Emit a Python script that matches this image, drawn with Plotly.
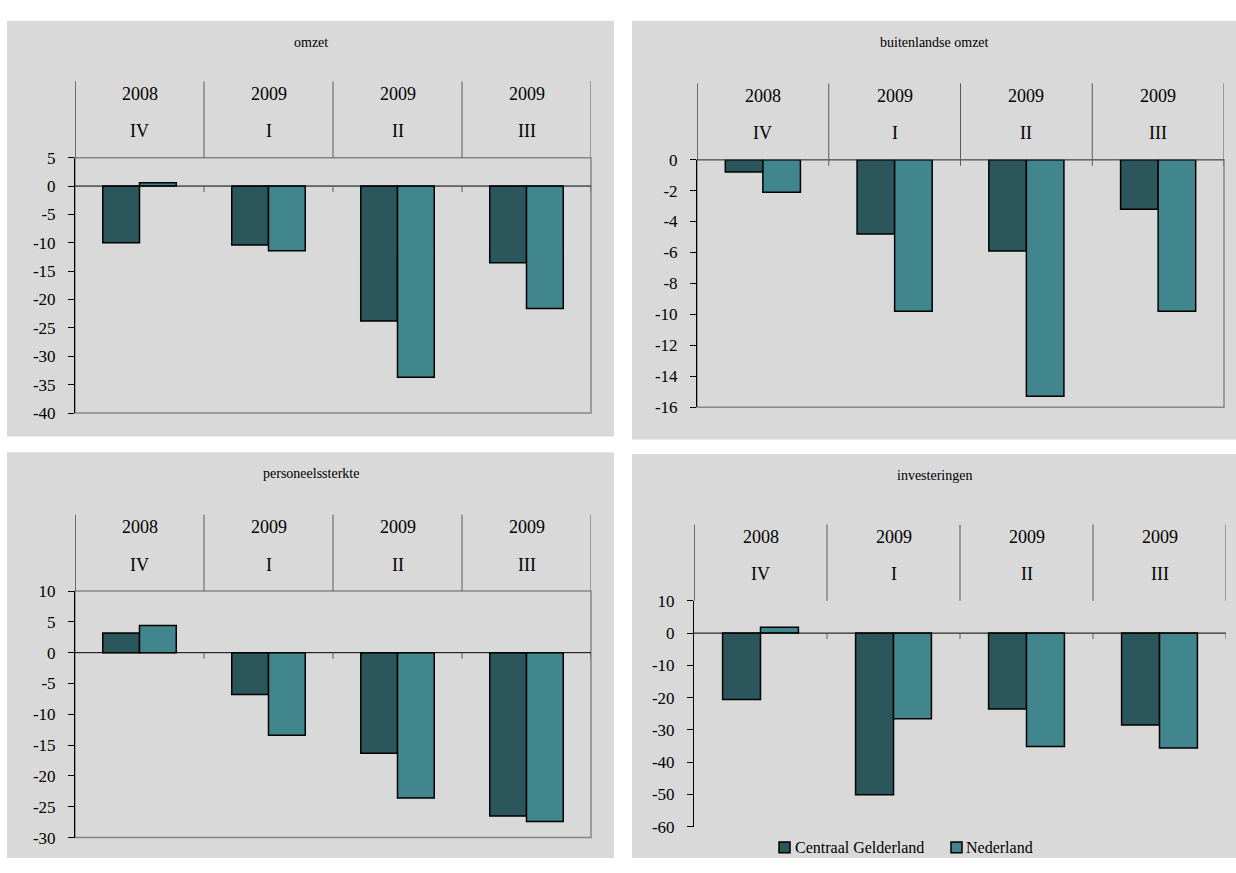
import plotly.graph_objects as go

W, H = 1236, 873

# ---------------- data ----------------
categories = ["2008 IV", "2009 I", "2009 II", "2009 III"]
years = ["2008", "2009", "2009", "2009"]
quarters = ["IV", "I", "II", "III"]
series_names = ["Centraal Gelderland", "Nederland"]

titles = ["omzet", "buitenlandse omzet", "personeelssterkte", "investeringen"]

omzet_cg = [-10.0, -10.4, -23.8, -13.5]
omzet_nl = [0.6, -11.4, -33.7, -21.6]
buiten_cg = [-0.8, -4.8, -5.9, -3.2]
buiten_nl = [-2.1, -9.8, -15.3, -9.8]
personeel_cg = [3.2, -6.8, -16.3, -26.5]
personeel_nl = [4.4, -13.4, -23.6, -27.4]
invest_cg = [-20.6, -50.1, -23.5, -28.5]
invest_nl = [1.8, -26.5, -35.1, -35.6]

omzet_ticks = [5, 0, -5, -10, -15, -20, -25, -30, -35, -40]
buiten_ticks = [0, -2, -4, -6, -8, -10, -12, -14, -16]
personeel_ticks = [10, 5, 0, -5, -10, -15, -20, -25, -30]
invest_ticks = [10, 0, -10, -20, -30, -40, -50, -60]

series_data = [
    (omzet_cg, omzet_nl, omzet_ticks),
    (buiten_cg, buiten_nl, buiten_ticks),
    (personeel_cg, personeel_nl, personeel_ticks),
    (invest_cg, invest_nl, invest_ticks),
]

# ---------------- styling / layout (pixels) ----------------
colors = ["#2b575c", "#41868c"]
panel_bg = "#d9d9d9"
FONT = "Liberation Serif"

panels = [
    dict(bg=(7, 12, 614, 437), px=(75, 591), py=(152, 413), border=True, ty=34),
    dict(bg=(632, 12, 1236, 440), px=(697, 1224), py=(154, 407), border=True, ty=34),
    dict(bg=(7, 453, 614, 868), px=(75, 591), py=(595, 847), border=True, ty=475),
    dict(bg=(632, 455, 1236, 868), px=(694, 1226), py=(605, 836), border=False, ty=477),
]
HEADER = 78
legend_pos = [(779, 793), (951, 964)]  # (square left, text left) in px
legend_y = 857

fig = go.Figure()
shapes = []
annotations = []
layout_axes = {}

for i, (p, (cg, nl, ticks)) in enumerate(zip(panels, series_data)):
    n = i + 1
    xa = "x" if n == 1 else f"x{n}"
    ya = "y" if n == 1 else f"y{n}"
    xname = "xaxis" if n == 1 else f"xaxis{n}"
    yname = "yaxis" if n == 1 else f"yaxis{n}"

    for vals, name, col in zip((cg, nl), series_names, colors):
        fig.add_trace(go.Bar(
            x=categories, y=vals, name=name, xaxis=xa, yaxis=ya,
            marker=dict(color=col, line=dict(color="black", width=1.5)),
            showlegend=False, legendgroup=name,
        ))

    x0, x1 = p["px"]
    y0, y1 = p["py"]
    h = y1 - y0
    layout_axes[xname] = dict(
        domain=[x0 / W, x1 / W], anchor=ya, type="category",
        categoryorder="array", categoryarray=categories,
        range=[-0.5, len(categories) - 0.5],
        showticklabels=False, showline=False, showgrid=False,
        zeroline=False, ticks="",
    )
    layout_axes[yname] = dict(
        domain=[1 - y1 / H, 1 - y0 / H], anchor=xa,
        range=[min(ticks), max(ticks)],
        tickvals=ticks, ticktext=[str(t) for t in ticks],
        showgrid=False, zeroline=False,
        showline=True, linecolor="black", linewidth=1,
        ticks="outside", ticklen=6, tickcolor="black", tickwidth=1,
        ticklabelstandoff=9,
        tickfont=dict(family=FONT, size=17, color="black"),
    )

    # panel background
    bx0, by0, bx1, by1 = p["bg"]
    shapes.append(dict(type="rect", xref="paper", yref="paper",
                       x0=bx0 / W, x1=bx1 / W, y0=1 - by1 / H, y1=1 - by0 / H,
                       fillcolor=panel_bg, line=dict(width=0), layer="below"))
    # plot border
    if p["border"]:
        shapes.append(dict(type="rect", xref=f"{xa} domain", yref=f"{ya} domain",
                           x0=0, x1=1, y0=0, y1=1,
                           line=dict(color="#868686", width=1.5), layer="below"))
    # zero line
    shapes.append(dict(type="line", xref=f"{xa} domain", yref=ya,
                       x0=0, x1=1, y0=0, y1=0,
                       line=dict(color="black", width=1), layer="above"))
    # header dividers and zero-line ticks
    top = 1 + HEADER / h
    for k in range(len(categories) + 1):
        xv = k - 0.5
        shapes.append(dict(type="line", xref=xa, yref=f"{ya} domain",
                           x0=xv, x1=xv, y0=1, y1=top,
                           line=dict(color="black" if k == 0 else "#5a5a5a", width=1)))
        if k > 0:
            shapes.append(dict(type="line", xref=xa, yref=ya, ysizemode="pixel",
                               yanchor=0, x0=xv, x1=xv, y0=0, y1=-6,
                               line=dict(color="#5a5a5a", width=1)))
    # category labels
    for c, yr, q in zip(categories, years, quarters):
        annotations.append(dict(x=c, xref=xa, yref=f"{ya} domain",
                                y=1 + (HEADER - 13) / h, text=yr, showarrow=False,
                                yanchor="middle", xanchor="center",
                                font=dict(family=FONT, size=18, color="black")))
        annotations.append(dict(x=c, xref=xa, yref=f"{ya} domain",
                                y=1 + (HEADER - 51) / h, text=q, showarrow=False,
                                yanchor="middle", xanchor="center",
                                font=dict(family=FONT, size=18, color="black")))
    # panel title
    annotations.append(dict(x=(bx0 + bx1) / 2 / W, y=1 - p["ty"] / H,
                            xref="paper", yref="paper", text=titles[i],
                            showarrow=False, yanchor="middle", xanchor="center",
                            font=dict(family=FONT, size=14, color="black")))

# legend (drawn as keys + labels)
for (sq, tx), name, col in zip(legend_pos, series_names, colors):
    shapes.append(dict(type="rect", xref="paper", yref="paper",
                       x0=sq / W, x1=(sq + 11) / W,
                       y0=1 - (legend_y + 5.5) / H, y1=1 - (legend_y - 5.5) / H,
                       fillcolor=col, line=dict(color="black", width=1.5)))
    annotations.append(dict(x=tx / W, y=1 - legend_y / H, xref="paper", yref="paper",
                            text=name, showarrow=False, xanchor="left", yanchor="middle",
                            font=dict(family=FONT, size=16, color="black")))

fig.update_layout(
    width=W, height=H,
    margin=dict(l=0, r=0, t=0, b=0),
    paper_bgcolor="white", plot_bgcolor="rgba(0,0,0,0)",
    barmode="group", bargap=0.43, bargroupgap=0,
    shapes=shapes, annotations=annotations,
    showlegend=False,
    font=dict(family=FONT),
    **layout_axes,
)

fig.write_html("out.html")
